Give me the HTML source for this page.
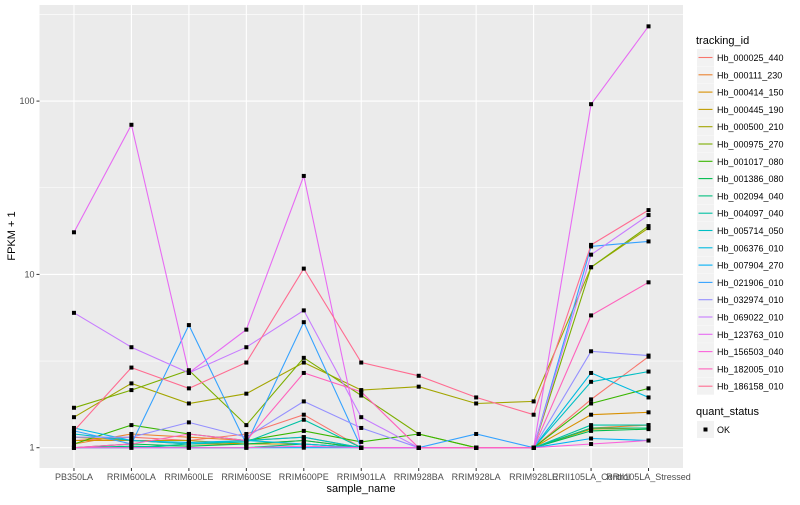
<!DOCTYPE html>
<html><head><meta charset="utf-8"><style>
body{margin:0;background:#fff;}
svg{font-family:"Liberation Sans",sans-serif;}
</style></head><body>
<svg id="chart" width="800" height="500"></svg>
<script>
const samples=["PB350LA","RRIM600LA","RRIM600LE","RRIM600SE","RRIM600PE","RRIM901LA","RRIM928BA","RRIM928LA","RRIM928LE","RRII105LA_Control","RRII105LA_Stressed"];
const ids=["Hb_000025_440","Hb_000111_230","Hb_000414_150","Hb_000445_190","Hb_000500_210","Hb_000975_270","Hb_001017_080","Hb_001386_080","Hb_002094_040","Hb_004097_040","Hb_005714_050","Hb_006376_010","Hb_007904_270","Hb_021906_010","Hb_032974_010","Hb_069022_010","Hb_123763_010","Hb_156503_040","Hb_182005_010","Hb_186158_010"];
const colors=["#F8766D","#EA8331","#D89000","#C09B00","#A3A500","#7CAE00","#39B600","#00BB4E","#00BF7D","#00C1A3","#00BFC4","#00BAE0","#00B0F6","#35A2FF","#9590FF","#C77CFF","#E76BF3","#FA62DB","#FF62BC","#FF6C91"];
const s0=[1.1,1.15,1.1,1.2,1.55,1.0,1.0,1.0,1.0,1.9,3.35];
const s1=[1.05,1.2,1.15,1.1,1.15,1.0,1.0,1.0,1.0,1.3,1.35];
const s2=[1.1,1.1,1.05,1.05,1.1,1.0,1.0,1.0,1.0,1.55,1.6];
const s3=[1.15,1.1,1.1,1.05,1.05,1.0,1.0,1.0,1.0,1.28,1.3];
const s4=[1.5,2.35,1.8,2.05,3.1,2.15,2.25,1.8,1.85,11,18.5];
const s5=[1.7,2.15,2.8,1.35,3.3,2.0,1.2,1.0,1.0,11,19];
const s6=[1.05,1.35,1.2,1.1,1.25,1.08,1.2,1.0,1.0,1.8,2.2];
const s7=[1.0,1.05,1.02,1.05,1.1,1.0,1.0,1.0,1.0,1.25,1.28];
const s8=[1.0,1.02,1.0,1.0,1.05,1.0,1.0,1.0,1.0,1.3,1.3];
const s9=[1.0,1.0,1.05,1.08,1.45,1.0,1.0,1.0,1.0,1.35,1.35];
const s10=[1.2,1.1,1.05,1.1,1.15,1.0,1.0,1.0,1.0,2.4,2.75];
const s11=[1.3,1.1,1.07,1.1,1.05,1.0,1.0,1.0,1.0,2.7,1.95];
const s12=[1.0,1.0,1.0,1.0,1.0,1.0,1.0,1.0,1.0,1.13,1.1];
const s13=[1.25,1.05,5.1,1.05,5.3,1.0,1.0,1.2,1.0,14.5,15.5];
const s14=[1.15,1.15,1.4,1.15,1.85,1.3,1.0,1.0,1.0,3.6,3.4];
const s15=[6,3.8,2.7,3.8,6.2,1.5,1.0,1.0,1.0,13,22];
const s16=[17.5,73,2.7,4.8,37,1.0,1.0,1.0,1.0,96,270];
const s17=[1.0,1.0,1.0,1.0,1.02,1.0,1.0,1.0,1.0,1.05,1.1];
const s18=[1.0,1.05,1.2,1.1,2.7,2.1,1.0,1.0,1.0,5.8,9];
const s19=[1.25,2.9,2.2,3.1,10.8,3.1,2.6,1.95,1.55,14.8,23.5];
const series=[s0,s1,s2,s3,s4,s5,s6,s7,s8,s9,s10,s11,s12,s13,s14,s15,s16,s17,s18,s19];
const yTicks=[1,10,100];
const yMinor=[Math.sqrt(10),Math.sqrt(1000),Math.sqrt(100000)];

const NS="http://www.w3.org/2000/svg";
const svg=document.getElementById('chart');
const P={l:39.5,r:683,t:5,b:468};
const step=(P.r-P.l)/(samples.length+0.2);
function X(i){return P.l+step*(0.6+i);}
function Y(v){return 447.7-173.3*Math.log10(v);}
function el(tag,attrs,parent){const e=document.createElementNS(NS,tag);for(const k in attrs)e.setAttribute(k,attrs[k]);(parent||svg).appendChild(e);return e;}

const panel=el('rect',{x:P.l,y:P.t,width:P.r-P.l,height:P.b-P.t,fill:'#ebebeb'});


yMinor.forEach(v=>{const y=Y(v);if(y>P.t&&y<P.b){const g=el('line',{x1:P.l,x2:P.r,y1:y,y2:y,stroke:'#fff','stroke-width':0.6});}});
yTicks.forEach(v=>{const y=Y(v);
 const g=el('line',{x1:P.l,x2:P.r,y1:y,y2:y,stroke:'#fff','stroke-width':1.1});
 
 
 const tk=el('line',{x1:P.l-3,x2:P.l,y1:y,y2:y,stroke:'#333','stroke-width':1});
 
 
 const t=el('text',{x:P.l-5,y:y+3,'text-anchor':'end','font-size':9,fill:'#4d4d4d'});t.textContent=v;
 
 
});
samples.forEach((s,i)=>{const x=X(i);
 const g=el('line',{x1:x,x2:x,y1:P.t,y2:P.b,stroke:'#fff','stroke-width':1.1});
 
 
 const tk=el('line',{x1:x,x2:x,y1:P.b,y2:P.b+3,stroke:'#333','stroke-width':1});
 
 
 const t=el('text',{x:x,y:P.b+12,'text-anchor':'middle','font-size':9,fill:'#4d4d4d'});t.textContent=s;
 
 
});
series.forEach((vals,k)=>{
 const d=vals.map((v,i)=>(i?'L':'M')+X(i).toFixed(1)+','+Y(v).toFixed(1)).join(' ');
 const p=el('path',{d:d,fill:'none',stroke:colors[k],'stroke-width':1.1});
 
 
});
series.forEach((vals,k)=>{vals.forEach((v,i)=>{
 const c=el('rect',{x:X(i)-2,y:Y(v)-2,width:4,height:4,fill:'#000'});
 
 
});});
const yt=el('text',{x:15,y:236,'text-anchor':'middle','font-size':11,fill:'#000',transform:'rotate(-90 15 236)'});yt.textContent='FPKM + 1';


const xt=el('text',{x:361,y:492,'text-anchor':'middle','font-size':11,fill:'#000'});xt.textContent='sample_name';


const lt=el('text',{x:696,y:44,'font-size':11,fill:'#000'});lt.textContent='tracking_id';


ids.forEach((id,k)=>{const y=49+k*17.3;
 const b=el('rect',{x:697,y:y,width:17,height:17,fill:'#f2f2f2'});
 
 
 const l=el('line',{x1:698.5,x2:712.5,y1:y+8.5,y2:y+8.5,stroke:colors[k],'stroke-width':1.1});
 
 
 const t=el('text',{x:717,y:y+12,'font-size':9,fill:'#000'});t.textContent=id;
 
 
});
const qt=el('text',{x:696,y:415,'font-size':11,fill:'#000'});qt.textContent='quant_status';


const qb=el('rect',{x:697,y:421,width:17,height:17,fill:'#f2f2f2'});


const qp=el('rect',{x:703.5,y:427.5,width:4,height:4,fill:'#000'});


const qtx=el('text',{x:717,y:433,'font-size':9,fill:'#000'});qtx.textContent='OK';


</script>
</body></html>
